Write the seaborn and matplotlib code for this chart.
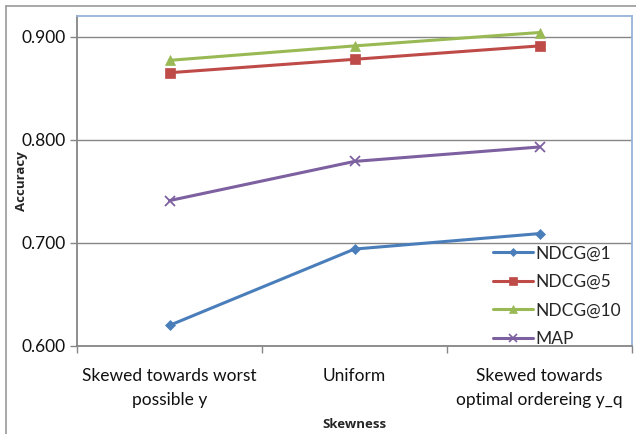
import matplotlib
matplotlib.use("Agg")
import matplotlib.pyplot as plt
from matplotlib.lines import Line2D
import seaborn as sns
import pandas as pd

categories = ["Skewed towards worst\npossible y", "Uniform", "Skewed towards\noptimal ordereing y_q"]
series_names = ["NDCG@1", "NDCG@5", "NDCG@10", "MAP"]
ndcg1 = [0.620, 0.694, 0.709]
ndcg5 = [0.865, 0.878, 0.891]
ndcg10 = [0.877, 0.891, 0.904]
map_vals = [0.741, 0.779, 0.793]
y_ticks = [0.600, 0.700, 0.800, 0.900]

colors = {"NDCG@1": "#4A7EBB", "NDCG@5": "#BE4B48", "NDCG@10": "#98B954", "MAP": "#7D60A0"}
markers = {"NDCG@1": "D", "NDCG@5": "s", "NDCG@10": "^", "MAP": "x"}
msizes = {"NDCG@1": 5, "NDCG@5": 7, "NDCG@10": 7, "MAP": 7}

rows = []
for name, vals in zip(series_names, [ndcg1, ndcg5, ndcg10, map_vals]):
    for i, v in enumerate(vals):
        rows.append({"pos": i, "Accuracy": v, "series": name})
df = pd.DataFrame(rows)

sns.set_theme(style="white")
plt.rcParams["font.family"] = ["Lato", "DejaVu Sans"]

W, H = 636, 434
fig = plt.figure(figsize=(W / 100, H / 100), dpi=100)
ax = fig.add_axes([77 / W, 1 - 346 / H, (632 - 77) / W, (346 - 16) / H])

for name in series_names:
    sub = df[df["series"] == name]
    sns.lineplot(data=sub, x="pos", y="Accuracy", ax=ax, color=colors[name],
                 marker=markers[name], markersize=msizes[name],
                 markeredgecolor=colors[name], markeredgewidth=1.3 if name == "MAP" else 0.5,
                 linewidth=2.2, legend=False)

ax.set_xlim(-0.5, 2.5)
ax.set_ylim(0.6, 0.92)
ax.set_yticks(y_ticks)
ax.set_yticklabels([f"{t:.3f}" for t in y_ticks], fontsize=12.5, color="#111111")
ax.set_xticks([0, 1, 2])
ax.set_xticklabels(categories, fontsize=12.5, color="#111111", linespacing=1.6)
ax.set_xticks([-0.5, 0.5, 1.5, 2.5], minor=True)
ax.tick_params(axis="x", which="major", length=0, pad=16)
ax.tick_params(axis="x", which="minor", length=5, width=1, color="#868686", direction="out", bottom=True)
ax.tick_params(axis="y", which="major", length=5, width=1, color="#868686", direction="out", left=True, pad=3)

ax.grid(axis="y", color="#868686", linewidth=1)
ax.grid(axis="x", visible=False)
ax.set_axisbelow(True)

for side in ["left", "bottom"]:
    ax.spines[side].set_color("#868686")
    ax.spines[side].set_linewidth(1.3)
for side in ["top", "right"]:
    ax.spines[side].set_color("#95B3D7")
    ax.spines[side].set_linewidth(1.3)

ax.set_ylabel("Accuracy", fontsize=9.5, fontweight="bold", family=["Open Sans", "DejaVu Sans"])
ax.set_xlabel("Skewness", fontsize=9.5, fontweight="bold", family=["Open Sans", "DejaVu Sans"])
ax.yaxis.set_label_coords(-0.088, 0.5)
ax.xaxis.set_label_coords(0.5, -0.219)

handles = [Line2D([0], [0], color=colors[n], marker=markers[n], markersize=msizes[n] - 1,
                  markeredgewidth=1.2 if n == "MAP" else 0.5, linewidth=2.2)
           for n in series_names]
leg = ax.legend(handles, series_names, loc="lower right", bbox_to_anchor=(1.009, -0.05),
                frameon=False, fontsize=12.5, handlelength=2.3, handletextpad=0.15,
                labelspacing=0.72)

# chart-area frame
fig.add_artist(Line2D([6 / W, 6 / W], [0, 1 - 6 / H], color="#9A9A9A", linewidth=1.2, transform=fig.transFigure))
fig.add_artist(Line2D([6 / W, 1], [1 - 6 / H, 1 - 6 / H], color="#9A9A9A", linewidth=1.2, transform=fig.transFigure))

fig.savefig("out.png", dpi=100)
